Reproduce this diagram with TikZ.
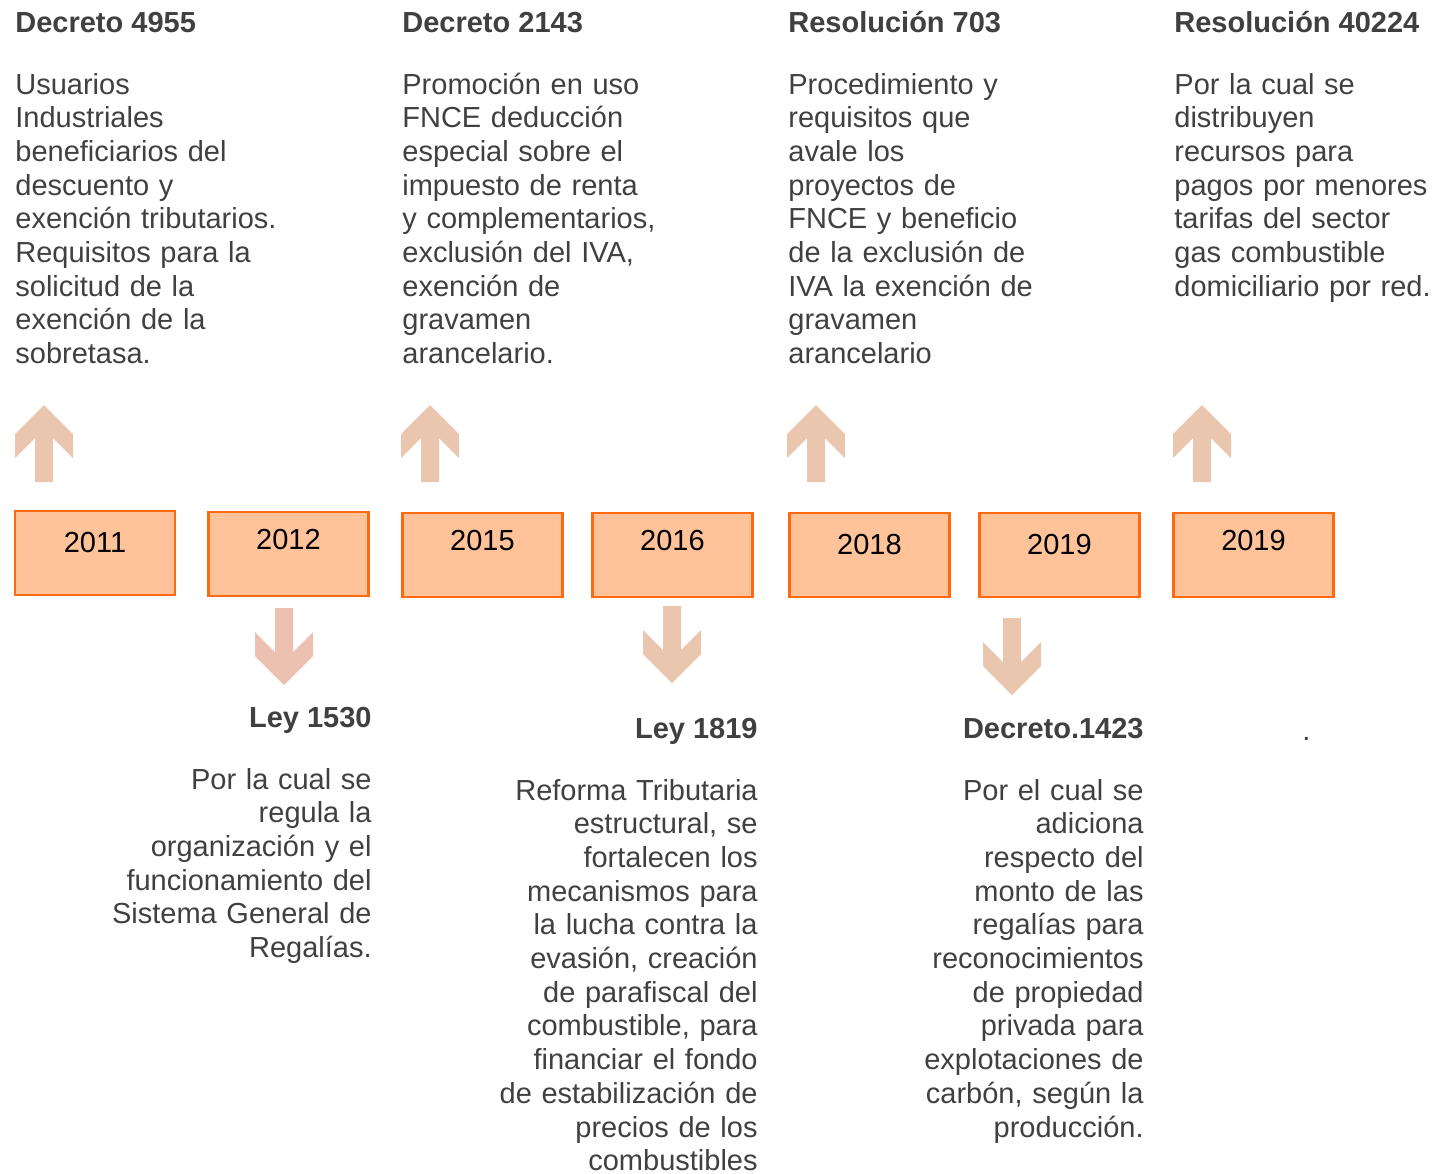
\documentclass[tikz,border=0pt]{standalone}
\usepackage{fontspec}
\setmainfont{Liberation Sans}
\usepackage{tikz}

\definecolor{boxfill}{HTML}{FFC299}
\definecolor{boxline}{HTML}{FF6A10}
\definecolor{arrfill}{HTML}{E9C6AD}
\definecolor{arrpink}{HTML}{ECC1B1}
\definecolor{txtgray}{HTML}{404040}

\begin{document}
\begin{tikzpicture}[x=0.5pt,y=-0.5pt,
    yearbox/.style={draw=boxline, line width=1.4pt, fill=boxfill, minimum width=80pt, minimum height=42pt,
      inner sep=0pt, text height=10pt, text depth=11pt, font=\fontsize{14.5}{16.85}\selectfont},
    hiyear/.style={yearbox, text depth=14.5pt},
    headtxt/.style={anchor=base west, inner sep=0pt, text=txtgray, font=\fontsize{14.5}{16.85}\selectfont\bfseries},
    bodytxt/.style={anchor=base west, inner sep=0pt, text=txtgray, text width=140pt, align=left,
      font=\fontsize{14.5}{16.85}\selectfont},
    rheadtxt/.style={headtxt, anchor=base east},
    rbodytxt/.style={bodytxt, anchor=base east, align=right},
    uparr/.pic={\fill[arrfill] (0,0) -- (-29,29) -- (-29,53) -- (-9,33) -- (-9,77) -- (9,77) -- (9,33) -- (29,53) -- (29,29) -- cycle;},
    downarr/.pic={\fill[arrfill] (-9,0) -- (9,0) -- (9,44) -- (29,24) -- (29,48) -- (0,77) -- (-29,48) -- (-29,24) -- (-9,44) -- cycle;},
    pinkarr/.pic={\fill[arrpink] (-9,0) -- (9,0) -- (9,44) -- (29,24) -- (29,48) -- (0,77) -- (-29,48) -- (-29,24) -- (-9,44) -- cycle;}]
  \useasboundingbox (0,0) rectangle (1432,1174);

  % Year boxes
  \node[yearbox] (y2011) at (95,553) {2011};
  \node[hiyear] (y2012) at (288.5,554) {2012};
  \node[hiyear] (y2015) at (482.5,555) {2015};
  \node[hiyear] (y2016) at (672.5,555) {2016};
  \node[yearbox] (y2018) at (869.5,555) {2018};
  \node[yearbox] (y2019a) at (1059.5,555) {2019};
  \node[hiyear] (y2019b) at (1253.5,555) {2019};

  % Arrows up
  \foreach \cx in {44,430,816,1202} {
    \pic at (\cx,405) {uparr};
  }

  % Arrows down
  \pic at (284,608) {pinkarr};
  \pic at (672,606) {downarr};
  \pic at (1012,618) {downarr};

  % Upper texts
  \node[headtxt] (h4955) at (15,32) {Decreto 4955};
  \node[bodytxt] (t4955) at (15,94) {Usuarios\\ Industriales\\ beneficiarios del\\ descuento y\\
    exención tributarios.\\ Requisitos para la\\ solicitud de la\\ exención de la\\ sobretasa.};

  \node[headtxt] (h2143) at (402,32) {Decreto 2143};
  \node[bodytxt] (t2143) at (402,94) {Promoción en uso\\ FNCE deducción\\ especial sobre el\\ impuesto de renta\\
    y complementarios,\\ exclusión del IVA,\\ exención de\\ gravamen\\ arancelario.};

  \node[headtxt] (h703) at (788,32) {Resolución 703};
  \node[bodytxt] (t703) at (788,94) {Procedimiento y\\ requisitos que\\ avale los\\ proyectos de\\
    FNCE y beneficio\\ de la exclusión de\\ IVA la exención de\\ gravamen\\ arancelario};

  \node[headtxt] (h40224) at (1174,32) {Resolución 40224};
  \node[bodytxt] (t40224) at (1174,94) {Por la cual se\\ distribuyen\\ recursos para\\ pagos por menores\\
    tarifas del sector\\ gas combustible\\ domiciliario por red.};

  % Lower texts
  \node[rheadtxt] (h1530) at (372,727) {Ley 1530};
  \node[rbodytxt] (t1530) at (372,789) {Por la cual se\\ regula la\\ organización y el\\ funcionamiento del\\
    Sistema General de\\ Regalías.};

  \node[rheadtxt] (h1819) at (758,738) {Ley 1819};
  \node[rbodytxt] (t1819) at (758,800) {Reforma Tributaria\\ estructural, se\\ fortalecen los\\ mecanismos para\\
    la lucha contra la\\ evasión, creación\\ de parafiscal del\\ combustible, para\\ financiar el fondo\\
    de estabilización de\\ precios de los\\ combustibles};

  \node[rheadtxt] (h1423) at (1144,738) {Decreto.1423};
  \node[rbodytxt] (t1423) at (1144,800) {Por el cual se\\ adiciona\\ respecto del\\ monto de las\\ regalías para\\
    reconocimientos\\ de propiedad\\ privada para\\ explotaciones de\\ carbón, según la\\ producción.};

  \node[headtxt, font=\fontsize{14.5}{16.85}\selectfont] (dot) at (1302,740) {.};
\end{tikzpicture}
\end{document}
